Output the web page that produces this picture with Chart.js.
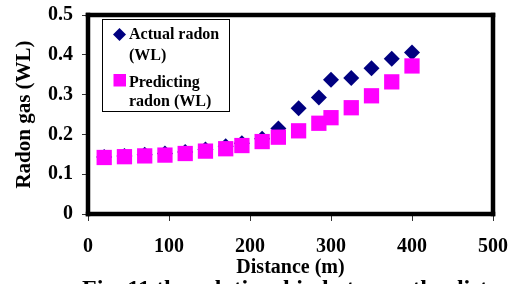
<!DOCTYPE html>
<html>
<head>
<meta charset="utf-8">
<script src="https://cdn.jsdelivr.net/npm/chart.js@4/dist/chart.umd.min.js"></script>
<style>
html,body{margin:0;padding:0;background:#fff;}
#wrap{width:513px;height:284px;position:relative;}
</style>
</head>
<body>
<div id="wrap"><canvas id="c" width="513" height="284"></canvas></div>
<script>
const distances = [20,45,70,95,120,145,170,190,215,235,260,285,300,325,350,375,400];
const actualRadon = [0.143,0.146,0.149,0.152,0.156,0.162,0.170,0.178,0.189,0.215,0.266,0.293,0.337,0.342,0.366,0.390,0.406];
const predictedRadon = [0.142,0.144,0.146,0.148,0.152,0.158,0.164,0.172,0.182,0.193,0.209,0.228,0.242,0.267,0.297,0.332,0.372];
const seriesNames = ['Actual radon (WL)', 'Predicting radon (WL)'];
const legendLines = [['Actual radon', '(WL)'], ['Predicting', 'radon (WL)']];
const xTicks = [0,100,200,300,400,500];
const yTicks = ['0','0.1','0.2','0.3','0.4','0.5'];
const xTitle = 'Distance (m)';
const yTitle = 'Radon gas (WL)';
const caption = 'Fig. 11 the relationship between the distance and radon gas';

const FONT = '"Liberation Serif", "Times New Roman", serif';
const NAVY = '#000080';
const PINK = '#FF00FF';

const toPoints = (xs, ys) => xs.map((x, i) => ({x: x, y: ys[i]}));

const framePlugin = {
  id: 'frame',
  afterDraw(chart) {
    const ctx = chart.ctx;
    const xs = chart.scales.x, ys = chart.scales.y;
    const L = xs.getPixelForValue(xTicks[0]);
    const R = xs.getPixelForValue(xTicks[xTicks.length - 1]);
    const B = ys.getPixelForValue(parseFloat(yTicks[0]));
    const T = ys.getPixelForValue(parseFloat(yTicks[yTicks.length - 1]));
    ctx.save();
    ctx.fillStyle = '#000';
    const w = 4.5;
    ctx.fillRect(L - w/2, T - w/2, R - L + w, w);
    ctx.fillRect(L - w/2, B - w/2, R - L + w, w);
    ctx.fillRect(L - w/2, T - w/2, w, B - T + w);
    ctx.fillRect(R - w/2, T - w/2, w, B - T + w);
    // legend box
    ctx.fillStyle = '#fff';
    ctx.fillRect(102, 19, 127, 92);
    ctx.fillStyle = '#000';
    ctx.fillRect(102, 19, 128, 1);
    ctx.fillRect(102, 111, 128, 1);
    ctx.fillRect(102, 19, 1, 93);
    ctx.fillRect(229, 19, 1, 93);
    // markers
    ctx.fillStyle = NAVY;
    ctx.beginPath();
    ctx.moveTo(119.5, 28); ctx.lineTo(126, 34.5); ctx.lineTo(119.5, 41); ctx.lineTo(113, 34.5);
    ctx.closePath(); ctx.fill();
    ctx.fillStyle = PINK;
    ctx.fillRect(113.5, 74, 12.5, 12.5);
    // text
    ctx.fillStyle = '#000';
    ctx.font = 'bold 16px ' + FONT;
    ctx.textAlign = 'left';
    ctx.textBaseline = 'middle';
    const ly = [[34.5, 56], [83, 101.5]];
    legendLines.forEach((lines, i) => {
      lines.forEach((t, j) => ctx.fillText(t, 129, ly[i][j]));
    });
    // caption (cut off at bottom)
    ctx.font = 'bold 24px ' + FONT;
    ctx.textBaseline = 'alphabetic';
    ctx.fillText(caption, 82, 296);
    ctx.restore();
  }
};

new Chart(document.getElementById('c'), {
  type: 'scatter',
  data: {
    datasets: [
      {
        label: seriesNames[0],
        data: toPoints(distances, actualRadon),
        pointStyle: 'rectRot',
        pointRadius: 8,
        pointHoverRadius: 8,
        backgroundColor: NAVY,
        borderColor: NAVY,
        borderWidth: 0,
        showLine: false,
        order: 1
      },
      {
        label: seriesNames[1],
        data: toPoints(distances, predictedRadon),
        pointStyle: 'rect',
        pointRadius: 10.8,
        pointHoverRadius: 10.8,
        backgroundColor: PINK,
        borderColor: PINK,
        borderWidth: 0,
        showLine: false,
        order: 0
      }
    ]
  },
  options: {
    responsive: false,
    animation: false,
    events: [],
    layout: {padding: {top: 15, right: 20, left: 0, bottom: 0}},
    plugins: {legend: {display: false}, tooltip: {enabled: false}},
    scales: {
      x: {
        type: 'linear',
        min: 0, max: 500,
        afterFit(s) { s.height = 70; s.paddingLeft = 0; s.paddingRight = 0; },
        afterBuildTicks(s) { s.ticks = xTicks.map(v => ({value: v})); },
        grid: {drawOnChartArea: false, drawTicks: true, tickLength: 7, color: '#333', lineWidth: 1},
        border: {display: false},
        ticks: {
          color: '#000', padding: 14,
          font: {family: FONT, size: 20, weight: 'bold'},
          maxRotation: 0,
          callback: (v) => String(v)
        },
        title: {
          display: true, text: xTitle, color: '#000',
          font: {family: FONT, size: 20, weight: 'bold'},
          padding: 4
        }
      },
      y: {
        type: 'linear',
        min: 0, max: 0.5,
        afterFit(s) { s.width = 88; s.paddingTop = 0; s.paddingBottom = 0; },
        afterBuildTicks(s) { s.ticks = yTicks.map(t => ({value: parseFloat(t)})); },
        grid: {drawOnChartArea: false, drawTicks: true, tickLength: 6, color: '#333', lineWidth: 1},
        border: {display: false},
        ticks: {
          color: '#000', padding: 9,
          font: {family: FONT, size: 20, weight: 'bold'},
          callback: (v, i) => yTicks[i]
        },
        title: {
          display: true, text: yTitle, color: '#000',
          font: {family: FONT, size: 21, weight: 'bold'},
          padding: 12
        }
      }
    }
  },
  plugins: [framePlugin]
});
</script>
</body>
</html>
